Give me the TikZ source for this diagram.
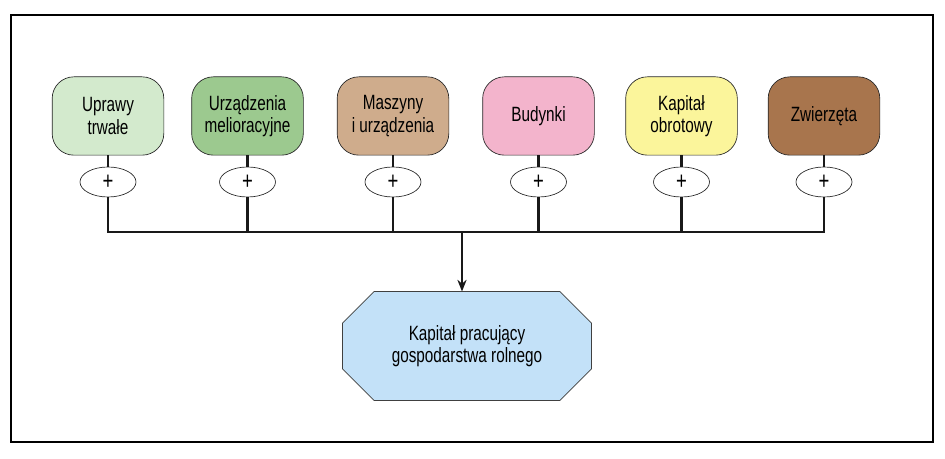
\documentclass[tikz,border=0pt]{standalone}
\usepackage{fontspec}
\setmainfont[FakeStretch=0.74]{Liberation Sans}
\usetikzlibrary{arrows.meta,shapes.geometric,backgrounds}

\definecolor{uprawy}{HTML}{D3EACD}
\definecolor{meliorac}{HTML}{9CC98F}
\definecolor{maszyny}{HTML}{CFAC8C}
\definecolor{budynki}{HTML}{F3B4CC}
\definecolor{obrot}{HTML}{FBF59B}
\definecolor{zwierz}{HTML}{A8754D}
\definecolor{pracuj}{HTML}{C3E1F8}

\begin{document}
\begin{tikzpicture}[
  x=0.6pt, y=-0.6pt,
  font=\fontsize{12.4}{13.4}\selectfont,
  asset/.style={draw=black!85, rounded corners=13pt, align=center, minimum width=67pt, minimum height=47pt, inner sep=1pt},
  plus/.style={draw=black!85, ellipse, minimum width=33.6pt, minimum height=18pt, inner sep=0pt, fill=white, font=\fontsize{15}{15}\selectfont},
  total/.style={align=center, minimum width=149pt, minimum height=65pt, inner sep=0pt},
  link/.style={line width=1.3pt, draw=black!90},
  arrow/.style={-{Stealth[length=7pt,width=5.5pt]}, line width=1.3pt, draw=black!90}
]

\useasboundingbox (0,0) rectangle (945,459);
\node[draw, line width=1.3pt, minimum width=553pt, minimum height=256pt] (frame) at (472,228.5) {};

\node[asset, fill=uprawy] (uprawy) at (108,116) {Uprawy\\trwałe};
\node[asset, fill=meliorac] (meliorac) at (247.5,116) {Urządzenia\\melioracyjne};
\node[asset, fill=maszyny] (maszyny) at (393,116) {Maszyny\\i urządzenia};
\node[asset, fill=budynki] (budynki) at (538.5,116) {Budynki};
\node[asset, fill=obrot] (obrot) at (681.5,116) {Kapitał\\obrotowy};
\node[asset, fill=zwierz] (zwierz) at (824,116) {Zwierzęta};

\node[plus] (p1) at (108,182) {+};
\node[plus] (p2) at (247.5,182) {+};
\node[plus] (p3) at (393,182) {+};
\node[plus] (p4) at (538.5,182) {+};
\node[plus] (p5) at (681.5,182) {+};
\node[plus] (p6) at (824,182) {+};

\coordinate (bus) at (462,232);

\draw[link] (uprawy) -- (p1);
\draw[link] (meliorac) -- (p2);
\draw[link] (maszyny) -- (p3);
\draw[link] (budynki) -- (p4);
\draw[link] (obrot) -- (p5);
\draw[link] (zwierz) -- (p6);

\draw[link] (p1.south) -- (p1 |- bus) -- (p6 |- bus) -- (p6.south);
\draw[link] (p2.south) -- (p2 |- bus);
\draw[link] (p3.south) -- (p3 |- bus);
\draw[link] (p4.south) -- (p4 |- bus);
\draw[link] (p5.south) -- (p5 |- bus);

% octagon behind the text
\node[total] (pracuj) at (467,346) {Kapitał pracujący\\gospodarstwa rolnego};
\begin{scope}[on background layer]
  \draw[draw=black!75, fill=pracuj]
    ([xshift=19pt]pracuj.north west) -- ([xshift=-19pt]pracuj.north east)
    -- ([yshift=-19pt]pracuj.north east) -- ([yshift=19pt]pracuj.south east)
    -- ([xshift=-19pt]pracuj.south east) -- ([xshift=19pt]pracuj.south west)
    -- ([yshift=19pt]pracuj.south west) -- ([yshift=-19pt]pracuj.north west) -- cycle;
\end{scope}
\draw[arrow] (bus) -- (bus |- pracuj.north);

\end{tikzpicture}
\end{document}
